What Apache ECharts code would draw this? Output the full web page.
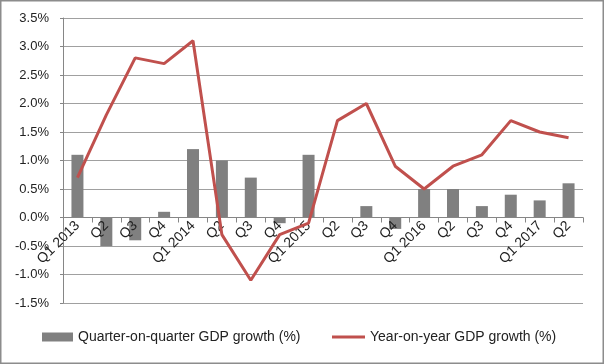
<!DOCTYPE html>
<html><head><meta charset="utf-8">
<script src="https://cdn.jsdelivr.net/npm/echarts@6/dist/echarts.min.js"></script>
<style>html,body{margin:0;padding:0;background:#fff}#c{width:604px;height:364px}</style>
</head><body><div id="c"></div>
<script>
var categories = ['Q1 2013','Q2','Q3','Q4','Q1 2014','Q2','Q3','Q4','Q1 2015','Q2','Q3','Q4','Q1 2016','Q2','Q3','Q4','Q1 2017','Q2'];
var qoq = [1.1,-0.5,-0.4,0.1,1.2,1.0,0.7,-0.1,1.1,0,0.2,-0.2,0.5,0.5,0.2,0.4,0.3,0.6];
var yoy = [0.7,1.8,2.8,2.7,3.1,-0.3,-1.1,-0.3,-0.1,1.7,2.0,0.9,0.5,0.9,1.1,1.7,1.5,1.4];
var yTicks = {min:-1.5, max:3.5, step:0.5};
var qoqName = 'Quarter-on-quarter GDP growth (%)';
var yoyName = 'Year-on-year GDP growth (%)';

var chart = echarts.init(document.getElementById('c'), null, {renderer:'canvas'});
var font = 'Liberation Sans';
var gridTop = 18, gridBottom = 61, H = 364;
var plotH = H - gridTop - gridBottom;
var zeroOffset = -plotH * (0 - yTicks.min) / (yTicks.max - yTicks.min);
chart.setOption({
  animation:false,
  graphic:[{type:'rect',shape:{x:0.75,y:0.75,width:602.5,height:362.5},style:{fill:'none',stroke:'#8c8c8c',lineWidth:1.5},silent:true}],
  grid:{left:63,right:21,top:gridTop,bottom:gridBottom},
  legend:[
    {left:42,top:330,padding:0,itemWidth:31,itemHeight:9,icon:'rect',
     textStyle:{fontFamily:font,fontSize:14,color:'#222'},data:[qoqName]},
    {left:332,top:330,padding:0,itemWidth:33,itemHeight:3,icon:'rect',
     textStyle:{fontFamily:font,fontSize:14,color:'#222'},data:[yoyName]}
  ],
  xAxis:{type:'category',data:categories,boundaryGap:true,offset:zeroOffset,z:3,
    axisLine:{onZero:false,lineStyle:{color:'#868686',width:1}},
    axisTick:{show:true,length:5,lineStyle:{color:'#868686'}},
    axisLabel:{rotate:45,fontFamily:font,fontSize:14,color:'#222',margin:6,interval:0}},
  yAxis:{type:'value',min:yTicks.min,max:yTicks.max,interval:yTicks.step,
    axisLine:{show:true,lineStyle:{color:'#868686'}},
    axisTick:{show:true,length:3,lineStyle:{color:'#868686'}},
    splitLine:{lineStyle:{color:'#a0a0a0',width:1}},
    axisLabel:{formatter:function(v){return v.toFixed(1)+'%';},fontFamily:font,fontSize:13,color:'#222',margin:14}},
  series:[
    {name:qoqName,type:'bar',data:qoq,barWidth:12,itemStyle:{color:'#808080'}},
    {name:yoyName,type:'line',data:yoy,symbol:'none',z:4,lineStyle:{color:'#c0504d',width:3},itemStyle:{color:'#c0504d'}}
  ]
});
</script></body></html>
